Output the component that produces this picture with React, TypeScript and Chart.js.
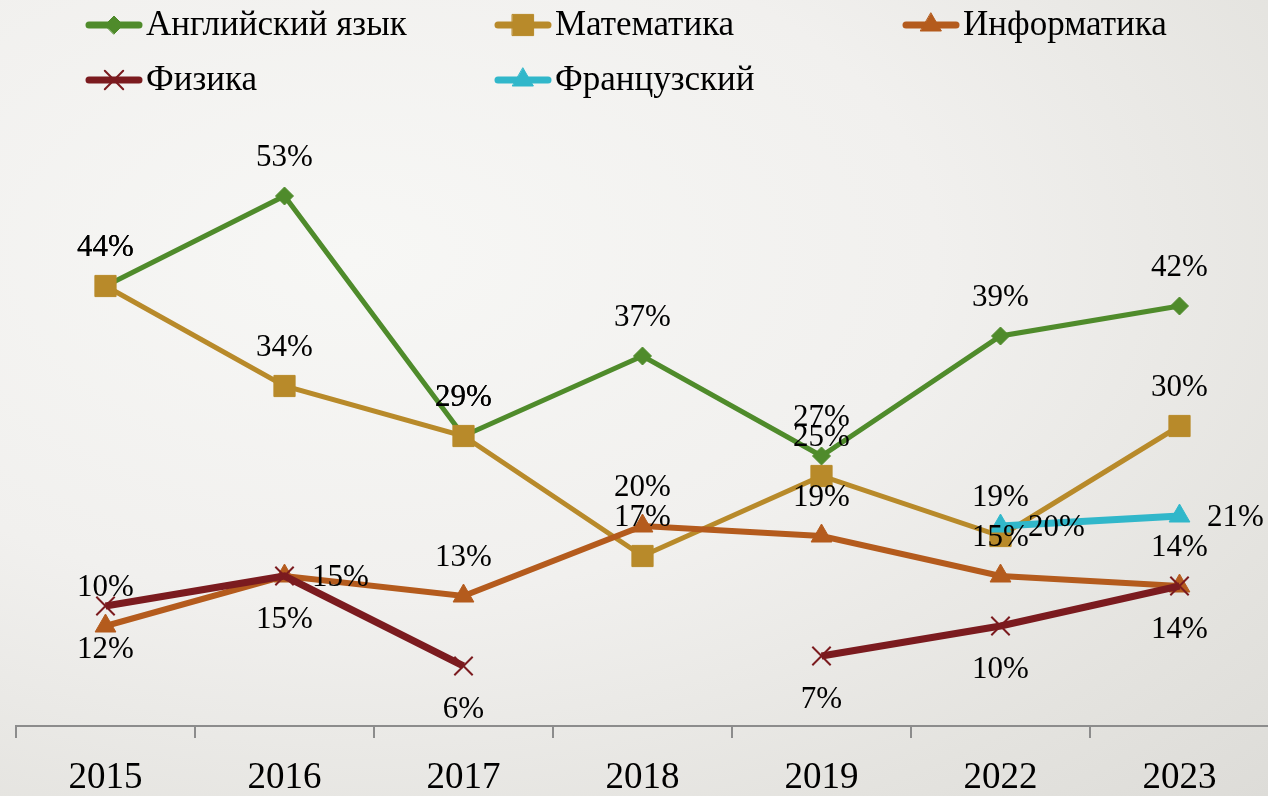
import React, { useEffect, useRef } from "react";
import { Chart, registerables } from "chart.js";
import { drawPoint } from "chart.js/helpers";

Chart.register(...registerables);

const years = ["2015", "2016", "2017", "2018", "2019", "2022", "2023"];
const seriesNames = ["Английский язык", "Математика", "Информатика", "Физика", "Французский"];
const english = [44, 53, 29, 37, 27, 39, 42];
const math = [44, 34, 29, 17, 25, 19, 30];
const informatics = [10, 15, 13, 20, 19, 15, 14];
const physics = [12, 15, 6, null, 7, 10, 14];
const french = [null, null, null, null, null, 20, 21];

const seriesValues = [english, math, informatics, physics, french];
const seriesColors = ["#4f8b2b", "#b88a2a", "#b45b1d", "#7b1b1f", "#31b7ca"];
const seriesMarkers = ["rectRot", "rect", "triangle", "crossRot", "triangle"];
const seriesRadius = [9, 15, 12, 13, 12];
const seriesLineWidth = [5, 5, 6, 7, 7];
const seriesLabelPos = ["above", "above", "above", "below", "right"];
const labelPosOverride: Record<string, string> = { "2-1": "right" };

const FONT = '"Liberation Serif", "Times New Roman", serif';

const legendPlugin = {
  id: "customLegend",
  afterDraw(chart: any) {
    const ctx = chart.ctx;
    const cols = [86, 495, 903];
    const rows = [25, 80];
    ctx.save();
    seriesNames.forEach((name, i) => {
      const x0 = cols[i % 3];
      const y0 = rows[Math.floor(i / 3)];
      ctx.strokeStyle = seriesColors[i];
      ctx.lineWidth = 7;
      ctx.lineCap = "round";
      ctx.beginPath();
      ctx.moveTo(x0 + 3, y0);
      ctx.lineTo(x0 + 53, y0);
      ctx.stroke();
      ctx.fillStyle = seriesColors[i];
      ctx.strokeStyle = seriesColors[i];
      ctx.lineWidth = seriesMarkers[i] === "crossRot" ? 2 : 1;
      drawPoint(ctx, { pointStyle: seriesMarkers[i], radius: seriesRadius[i], borderWidth: ctx.lineWidth, rotation: 0 }, x0 + 28, y0);
      ctx.fillStyle = "#000";
      ctx.font = `35px ${FONT}`;
      ctx.textBaseline = "middle";
      ctx.textAlign = "left";
      ctx.fillText(name, x0 + 60, y0 + 1);
    });
    ctx.restore();
  },
};

const labelPlugin = {
  id: "valueLabels",
  afterDatasetsDraw(chart: any) {
    const ctx = chart.ctx;
    ctx.save();
    ctx.font = `31px ${FONT}`;
    ctx.fillStyle = "#000";
    ctx.textBaseline = "middle";
    ctx.textAlign = "center";
    chart.data.datasets.forEach((ds: any, i: number) => {
      const meta = chart.getDatasetMeta(i);
      meta.data.forEach((pt: any, j: number) => {
        const v = ds.data[j];
        if (v == null) return;
        const pos = labelPosOverride[`${i}-${j}`] || seriesLabelPos[i];
        let x = pt.x;
        let y = pt.y;
        if (pos === "above") y -= 38;
        else if (pos === "below") y += 44;
        else {
          x += 56;
          y += 2;
        }
        ctx.fillText(`${v}%`, x, y);
      });
    });
    ctx.restore();
  },
};

export default function App() {
  const ref = useRef<HTMLCanvasElement>(null);
  useEffect(() => {
    if (!ref.current) return;
    const chart = new Chart(ref.current, {
      type: "line",
      data: {
        labels: years,
        datasets: seriesNames.map((name, i) => ({
          label: name,
          data: seriesValues[i],
          borderColor: seriesColors[i],
          backgroundColor: seriesColors[i],
          borderWidth: seriesLineWidth[i],
          pointStyle: seriesMarkers[i] as any,
          pointRadius: seriesRadius[i],
          pointBorderWidth: seriesMarkers[i] === "crossRot" ? 2 : 1,
          pointBorderColor: seriesColors[i],
          pointBackgroundColor: seriesColors[i],
          tension: 0,
          spanGaps: false,
          clip: false as any,
          order: 5 - i,
        })),
      },
      options: {
        responsive: false,
        animation: false,
        layout: { padding: { top: 126, left: 16, right: 21, bottom: 0 } },
        plugins: { legend: { display: false }, tooltip: { enabled: false } },
        scales: {
          x: {
            offset: true,
            grid: { display: true, drawOnChartArea: false, drawTicks: true, tickLength: 12, color: "#8c8c8c", lineWidth: 2, offset: true },
            border: { display: true, color: "#8c8c8c", width: 2 },
            ticks: { font: { family: FONT, size: 37 }, color: "#000", padding: 18, maxRotation: 0 },
            afterFit: (s: any) => {
              s.height = 70;
            },
          },
          y: { display: false, min: 0, max: 60 },
        },
      },
      plugins: [labelPlugin, legendPlugin],
    });
    return () => chart.destroy();
  }, []);
  return (
    <div
      style={{
        position: "absolute",
        left: 0,
        top: 0,
        width: 1268,
        height: 796,
        overflow: "hidden",
        background: "radial-gradient(ellipse at 28% 32%, #f7f7f5 0%, #f1f0ee 45%, #e4e3df 80%, #dddcd8 100%)",
      }}
    >
      <canvas ref={ref} width={1290} height={796} style={{ display: "block" }} />
    </div>
  );
}
